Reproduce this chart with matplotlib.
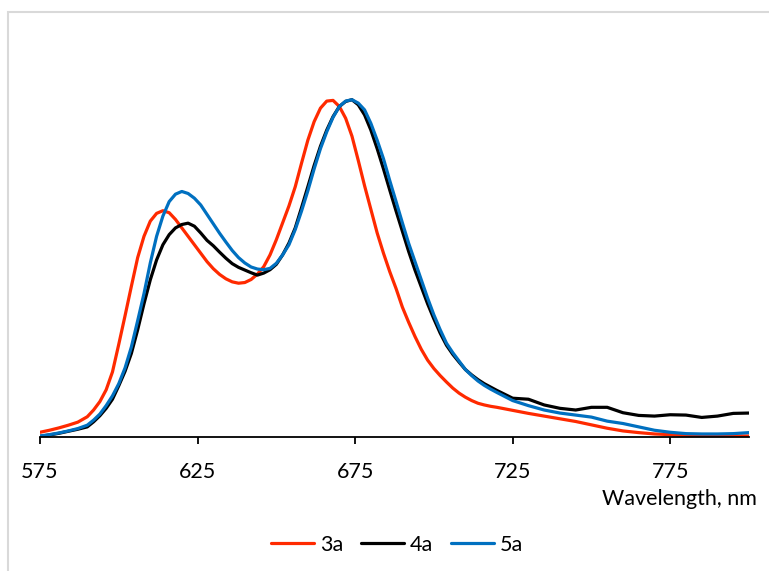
import matplotlib
matplotlib.use("Agg")
import matplotlib.pyplot as plt
from matplotlib.patches import Rectangle

plt.rcParams['font.family'] = ['Lato', 'DejaVu Sans']

# wavelength grid (nm) and normalised emission
wavelength = [575, 578, 581, 584, 587,
              590, 592, 594, 596, 598, 600, 602, 604, 606, 608,
              610, 612, 614, 616, 618, 620, 622, 624, 626, 628,
              630, 632, 634, 636, 638, 640, 642, 644, 646, 648,
              650, 652, 654, 656, 658, 660, 662, 664, 666, 668,
              670, 672, 674, 676, 678, 680, 682, 684, 686, 688,
              690, 692, 694, 696, 698, 700, 702, 704, 706, 708,
              710, 712, 714, 716, 718, 720,
              725, 730, 735, 740, 745, 750, 755, 760, 765, 770,
              775, 780, 785, 790, 795, 800]

em_3a = [0.014, 0.020, 0.027, 0.035, 0.044,
         0.060, 0.080, 0.105, 0.140, 0.193, 0.275, 0.360, 0.447, 0.532, 0.595,
         0.640, 0.663, 0.671, 0.665, 0.645, 0.620, 0.595, 0.570, 0.545, 0.520,
         0.499, 0.482, 0.469, 0.460, 0.456, 0.458, 0.467, 0.483, 0.505, 0.540,
         0.585, 0.635, 0.685, 0.742, 0.812, 0.880, 0.935, 0.975, 0.996, 0.998,
         0.980, 0.945, 0.892, 0.820, 0.745, 0.675, 0.605, 0.545, 0.490, 0.440,
         0.385, 0.340, 0.298, 0.260, 0.228, 0.203, 0.182, 0.163, 0.145, 0.130,
         0.118, 0.108, 0.100, 0.095, 0.091, 0.088,
         0.079, 0.070, 0.062, 0.054, 0.046, 0.036, 0.026, 0.018, 0.013, 0.009,
         0.007, 0.005, 0.004, 0.003, 0.003, 0.003]

em_4a = [0.002, 0.006, 0.011, 0.017, 0.023,
         0.030, 0.045, 0.063, 0.085, 0.112, 0.152, 0.195, 0.248, 0.318, 0.395,
         0.466, 0.525, 0.570, 0.600, 0.620, 0.630, 0.634, 0.625, 0.605, 0.583,
         0.567, 0.548, 0.530, 0.514, 0.503, 0.495, 0.487, 0.480, 0.486, 0.496,
         0.512, 0.540, 0.575, 0.620, 0.680, 0.742, 0.805, 0.862, 0.910, 0.950,
         0.980, 0.995, 1.000, 0.985, 0.955, 0.910, 0.855, 0.795, 0.732, 0.670,
         0.610, 0.550, 0.495, 0.445, 0.395, 0.350, 0.308, 0.272, 0.245, 0.222,
         0.200, 0.184, 0.170, 0.158, 0.148, 0.138,
         0.115, 0.112, 0.095, 0.085, 0.080, 0.088, 0.088, 0.072, 0.064, 0.062,
         0.066, 0.065, 0.058, 0.062, 0.070, 0.071]

em_5a = [0.003, 0.007, 0.012, 0.018, 0.025,
         0.035, 0.050, 0.068, 0.093, 0.122, 0.158, 0.205, 0.267, 0.345, 0.425,
         0.516, 0.595, 0.655, 0.698, 0.720, 0.728, 0.722, 0.708, 0.688, 0.660,
         0.632, 0.604, 0.578, 0.553, 0.532, 0.516, 0.504, 0.498, 0.496, 0.500,
         0.515, 0.540, 0.570, 0.615, 0.670, 0.730, 0.795, 0.855, 0.905, 0.948,
         0.980, 0.996, 1.000, 0.990, 0.970, 0.930, 0.880, 0.825, 0.760, 0.698,
         0.635, 0.574, 0.520, 0.466, 0.412, 0.362, 0.318, 0.278, 0.250, 0.225,
         0.200, 0.182, 0.166, 0.153, 0.142, 0.132,
         0.108, 0.093, 0.080, 0.071, 0.065, 0.059, 0.047, 0.040, 0.030, 0.020,
         0.014, 0.010, 0.009, 0.009, 0.010, 0.013]

xticks = [575, 625, 675, 725, 775]

W, H = 769, 571
fig = plt.figure(figsize=(W / 100, H / 100), dpi=100)

# light grey chart frame (only top/left edges are visible in the crop)
fig.patches.append(Rectangle((7.5 / W, -0.2), 1.2, 1 - 11.5 / H + 0.2,
                             transform=fig.transFigure, fill=False,
                             edgecolor='#d9d9d9', linewidth=1.5))

ax = fig.add_axes([40 / W, (H - 437) / H, (749 - 40) / W, 371 / H])
for y, c, lab in [(em_3a, '#ff2a00', '3a'), (em_4a, '#000000', '4a'),
                  (em_5a, '#0070c0', '5a')]:
    ax.plot(wavelength, y, color=c, lw=2.3, label=lab,
            solid_joinstyle='round', solid_capstyle='round')

ax.set_xlim(575, 800)
ax.set_ylim(0, 1.1)
ax.set_xticks(xticks)
ax.set_yticks([])
for s in ['top', 'right', 'left']:
    ax.spines[s].set_visible(False)
ax.spines['bottom'].set_linewidth(1.3)
ax.tick_params(axis='x', direction='out', length=5, width=1.3, pad=13,
               labelsize=15.5, colors='black')

fig.text(757 / W, 1 - 499 / H, 'Wavelength, nm', ha='right', va='center',
         fontsize=15.5)

fig.legend(loc='center', bbox_to_anchor=(397 / W, 1 - 545 / H), ncol=3,
           frameon=False, fontsize=15.5, handlelength=2.0,
           handletextpad=0.3, columnspacing=0.8)

fig.savefig('out.png', dpi=100)
